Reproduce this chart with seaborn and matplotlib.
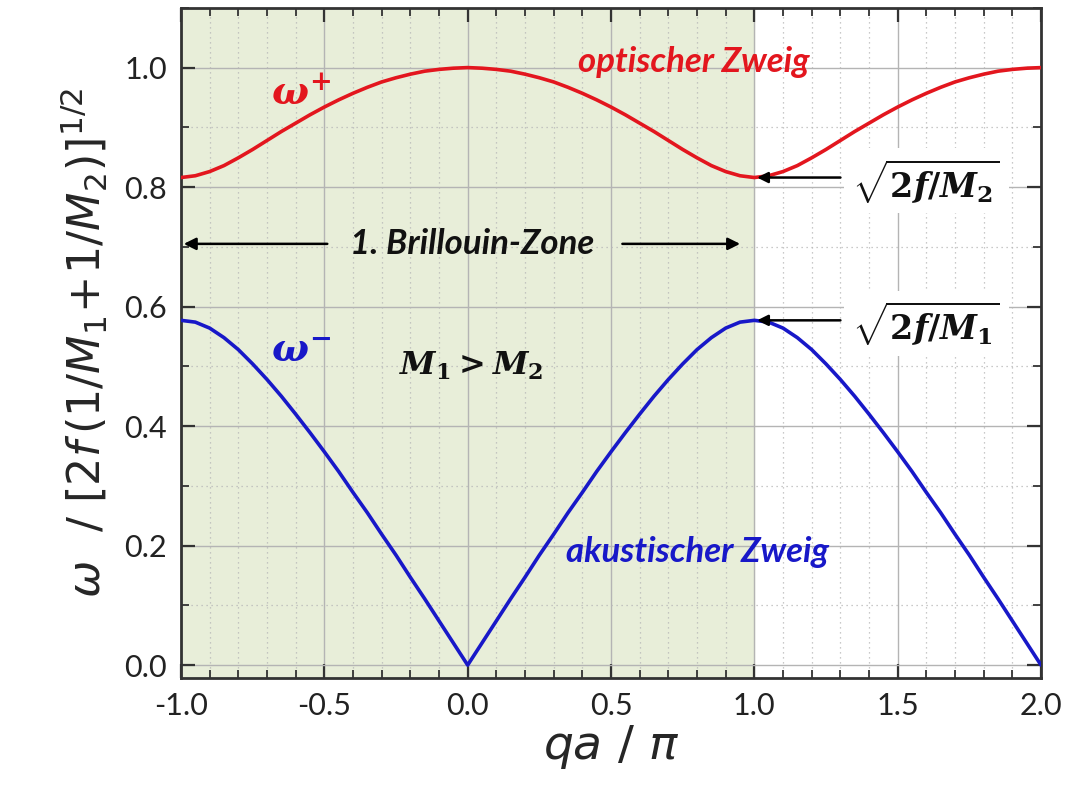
import numpy as np
import pandas as pd
import matplotlib.pyplot as plt
import seaborn as sns
from matplotlib.ticker import MultipleLocator

# values (qa/pi from -1 to 2 in steps of 0.05)
q = [round(-1.0 + 0.05 * i, 2) for i in range(61)]

omega_plus = [
    0.816, 0.819, 0.826, 0.836, 0.849, 0.863, 0.878, 0.893, 0.907, 0.921,
    0.934, 0.946, 0.957, 0.967, 0.976, 0.983, 0.989, 0.994, 0.997, 0.999,
    1.000,
    0.999, 0.997, 0.994, 0.989, 0.983, 0.976, 0.967, 0.957, 0.946, 0.934,
    0.921, 0.907, 0.893, 0.878, 0.863, 0.849, 0.836, 0.826, 0.819, 0.816,
    0.819, 0.826, 0.836, 0.849, 0.863, 0.878, 0.893, 0.907, 0.921, 0.934,
    0.946, 0.957, 0.967, 0.976, 0.983, 0.989, 0.994, 0.997, 0.999, 1.000,
]

omega_minus = [
    0.577, 0.574, 0.564, 0.548, 0.528, 0.504, 0.478, 0.450, 0.420, 0.389,
    0.357, 0.324, 0.289, 0.255, 0.219, 0.184, 0.147, 0.111, 0.074, 0.037,
    0.000,
    0.037, 0.074, 0.111, 0.147, 0.184, 0.219, 0.255, 0.289, 0.324, 0.357,
    0.389, 0.420, 0.450, 0.478, 0.504, 0.528, 0.548, 0.564, 0.574, 0.577,
    0.574, 0.564, 0.548, 0.528, 0.504, 0.478, 0.450, 0.420, 0.389, 0.357,
    0.324, 0.289, 0.255, 0.219, 0.184, 0.147, 0.111, 0.074, 0.037, 0.000,
]

zone = [-1.0, 1.0]
x_ticks = [-1.0, -0.5, 0.0, 0.5, 1.0, 1.5, 2.0]
y_ticks = [0.0, 0.2, 0.4, 0.6, 0.8, 1.0]

df = pd.DataFrame({'q': q, 'plus': omega_plus, 'minus': omega_minus})

sns.set_theme(style='ticks')
plt.rcParams['font.family'] = ['Lato', 'DejaVu Sans']
plt.rcParams['mathtext.fontset'] = 'custom'
plt.rcParams['mathtext.rm'] = 'DejaVu Serif:bold'
plt.rcParams['mathtext.it'] = 'DejaVu Serif:italic:bold'
plt.rcParams['mathtext.bf'] = 'DejaVu Serif:italic:bold'

red = '#e3161e'
blue = '#1818c8'

fig = plt.figure(figsize=(10.71, 7.85), dpi=100)
ax = fig.add_axes([0.169, 0.136, 0.803, 0.854])

# 1st Brillouin zone shading
ax.axvspan(zone[0], zone[1], color='#e8eed9', zorder=0)

sns.lineplot(data=df, x='q', y='plus', ax=ax, color=red, lw=2.6, zorder=3)
sns.lineplot(data=df, x='q', y='minus', ax=ax, color=blue, lw=2.6, zorder=3)

ax.set_xlim(-1.0, 2.0)
ax.set_ylim(-0.022, 1.1)
ax.set_xticks(x_ticks)
ax.set_xticklabels([f'{v:.1f}' for v in x_ticks])
ax.set_yticks(y_ticks)
ax.set_yticklabels([f'{v:.1f}' for v in y_ticks])
ax.xaxis.set_minor_locator(MultipleLocator(0.1))
ax.yaxis.set_minor_locator(MultipleLocator(0.1))
ax.grid(which='major', color='#b4b4b4', lw=1.0, zorder=1)
ax.grid(which='minor', color='#b8b8b8', lw=0.9, ls=(0, (1, 3)), zorder=1)
ax.set_axisbelow(True)
ax.tick_params(which='both', direction='in', top=True, right=True,
               colors='#333333')
ax.tick_params(which='major', length=10, width=1.6, pad=10,
               labelsize=22, labelcolor='#222222')
ax.tick_params(which='minor', length=6, width=1.3)
for s in ax.spines.values():
    s.set_linewidth(2.0)
    s.set_color('#333333')

ax.set_xlabel(r'$qa\ /\ \pi$', fontsize=34, math_fontfamily='dejavusans', labelpad=2)
ax.set_ylabel(r'$\omega\ \ /\ [2f\,(1/M_1\!+\!1/M_2)]^{1/2}$', fontsize=32,
              math_fontfamily='dejavusans', labelpad=10)

# branch labels
ax.text(0.79, 1.01, 'optischer Zweig', color=red, fontsize=25,
        fontstyle='italic', fontweight='bold', ha='center', va='center')
ax.text(0.80, 0.19, 'akustischer Zweig', color=blue, fontsize=25,
        fontstyle='italic', fontweight='bold', ha='center', va='center')
ax.text(-0.58, 0.955, r'$\omega^{+}$', color=red, fontsize=28,
        ha='center', va='center', math_fontfamily='custom')
ax.text(-0.58, 0.525, r'$\omega^{-}$', color=blue, fontsize=28,
        ha='center', va='center', math_fontfamily='custom')
ax.text(0.01, 0.50, r'$M_1 > M_2$', color='#111111', fontsize=23,
        ha='center', va='center', math_fontfamily='custom')

# Brillouin zone marker
ax.text(0.015, 0.705, '1. Brillouin-Zone', color='#111111', fontsize=25,
        fontstyle='italic', fontweight='bold', ha='center', va='center')
ax.annotate('', xy=(-1.0, 0.705), xytext=(-0.48, 0.705),
            arrowprops=dict(arrowstyle='-|>', color='black', lw=1.8,
                            mutation_scale=18))
ax.annotate('', xy=(0.96, 0.705), xytext=(0.53, 0.705),
            arrowprops=dict(arrowstyle='-|>', color='black', lw=1.8,
                            mutation_scale=18))

# zone-boundary frequencies
for y_val, lab in [(0.816, r'$\sqrt{2f/M_2}$'), (0.577, r'$\sqrt{2f/M_1}$')]:
    ax.annotate('', xy=(1.0, y_val), xytext=(1.31, y_val),
                arrowprops=dict(arrowstyle='-|>', color='black', lw=1.8,
                                mutation_scale=16), zorder=4)
    ax.text(1.6, y_val - 0.005, lab, fontsize=24, ha='center', va='center',
            color='#111111', math_fontfamily='custom', zorder=5,
            bbox=dict(boxstyle='square,pad=0.25', fc='white', ec='none'))

plt.savefig('out.png', dpi=100)
